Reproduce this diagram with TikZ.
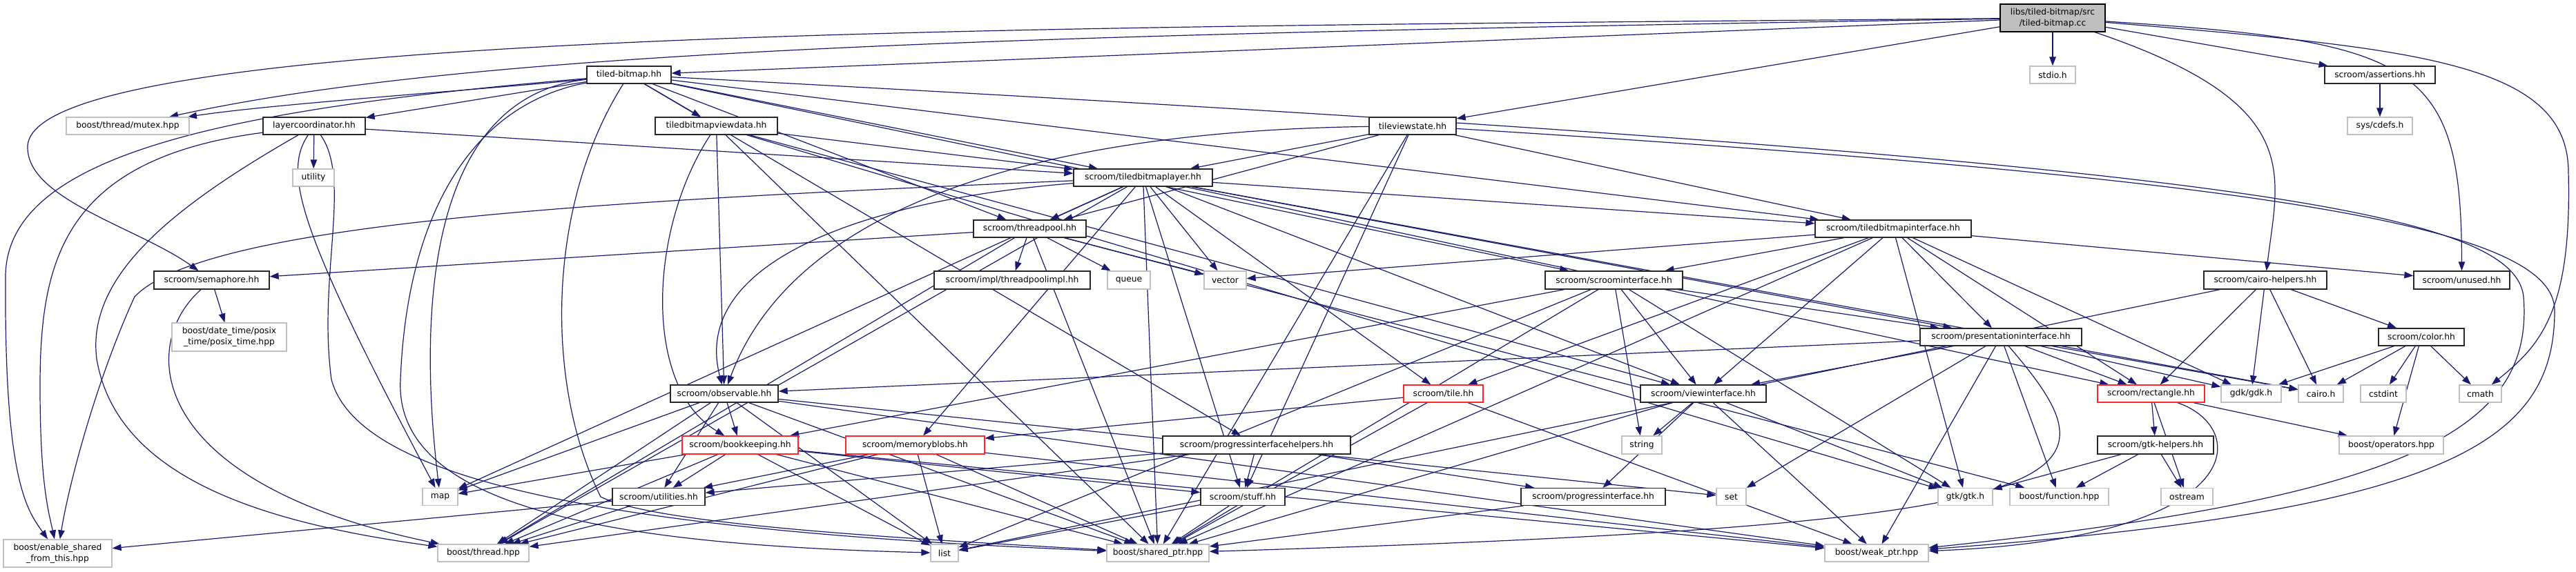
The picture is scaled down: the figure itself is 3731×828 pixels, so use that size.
\documentclass[tikz,border=0pt]{standalone}
\usepackage{fontspec}
\setmainfont{DejaVu Sans}
\usetikzlibrary{arrows.meta}
\pgfdeclarelayer{bg}
\pgfsetlayers{bg,main}
\definecolor{edgec}{RGB}{25,25,112}
\definecolor{extc}{RGB}{191,191,191}
\definecolor{redc}{RGB}{255,40,40}
\definecolor{docc}{RGB}{40,40,40}
\tikzset{
  nb/.style={rectangle, inner sep=0pt, minimum height=25pt, fill=white, align=center,
    font=\fontsize{12.3pt}{15.6pt}\selectfont, line width=1.3pt},
  doc/.style={nb, draw=docc},
  ext/.style={nb, draw=extc},
  trunc/.style={nb, draw=redc},
  mainn/.style={nb, draw=black, fill=extc},
  e/.style={draw=edgec, line width=1.2pt, -{Triangle[length=13pt,width=9.5pt]}, fill=none}
}
\begin{document}
\begin{tikzpicture}[x=1pt,y=-1pt]
\useasboundingbox (0,0) rectangle (3731,828);
% row 0
\node[mainn, minimum width=152pt, minimum height=40pt] (main) at (2973,26) {libs/tiled-bitmap/src\\/tiled-bitmap.cc};
% row 1
\node[doc, minimum width=122pt] (tbhh) at (911,108.5) {tiled-bitmap.hh};
\node[ext, minimum width=66pt] (stdio) at (2973,108.5) {stdio.h};
\node[doc, minimum width=160pt] (assert) at (3447,108.5) {scroom/assertions.hh};
% row 2
\node[ext, minimum width=178pt] (mutex) at (185,182.5) {boost/thread/mutex.hpp};
\node[doc, minimum width=148pt] (layerc) at (455,182.5) {layercoordinator.hh};
\node[doc, minimum width=177pt] (tbvd) at (1037.5,182.5) {tiledbitmapviewdata.hh};
\node[doc, minimum width=126pt] (tvs) at (2046,182.5) {tileviewstate.hh};
\node[ext, minimum width=94pt] (cdefs) at (3447,182.5) {sys/cdefs.h};
% row 3
\node[ext, minimum width=60pt] (utility) at (454,257.5) {utility};
\node[doc, minimum width=201pt] (tbl) at (1655.5,257.5) {scroom/tiledbitmaplayer.hh};
% row 4
\node[doc, minimum width=163pt] (tp) at (1491.5,331.5) {scroom/threadpool.hh};
\node[doc, minimum width=226pt] (tbi) at (2742,331.5) {scroom/tiledbitmapinterface.hh};
% row 5
\node[doc, minimum width=167pt, minimum height=26pt] (sem) at (306.5,406) {scroom/semaphore.hh};
\node[doc, minimum width=226pt, minimum height=26pt] (tpimpl) at (1466,406) {scroom/impl/threadpoolimpl.hh};
\node[ext, minimum width=62pt, minimum height=26pt] (queue) at (1635,406) {queue};
\node[ext, minimum width=61pt, minimum height=26pt] (vector) at (1774.5,406) {vector};
\node[doc, minimum width=199pt, minimum height=26pt] (si) at (2337.5,406) {scroom/scroominterface.hh};
\node[doc, minimum width=178pt, minimum height=26pt] (ch) at (3281,406) {scroom/cairo-helpers.hh};
\node[doc, minimum width=139pt, minimum height=26pt] (unused) at (3565.5,406) {scroom/unused.hh};
% row 6
\node[ext, minimum width=166pt, minimum height=41pt] (posix) at (332,488.5) {boost/date\_time/posix\\\_time/posix\_time.hpp};
\node[doc, minimum width=234pt] (pi) at (2898,488.5) {scroom/presentationinterface.hh};
\node[doc, minimum width=124pt] (color) at (3507,488.5) {scroom/color.hh};
% row 7
\node[doc, minimum width=156pt] (obs) at (1049,570.5) {scroom/observable.hh};
\node[trunc, minimum width=115pt] (tile) at (2090.5,570.5) {scroom/tile.hh};
\node[doc, minimum width=182pt] (vi) at (2467,570.5) {scroom/viewinterface.hh};
\node[trunc, minimum width=155pt] (rect) at (3115.5,570.5) {scroom/rectangle.hh};
\node[ext, minimum width=87pt] (gdk) at (3260.5,570.5) {gdk/gdk.h};
\node[ext, minimum width=65pt] (cairo) at (3361.5,570.5) {cairo.h};
\node[ext, minimum width=66pt] (cstdint) at (3452,570.5) {cstdint};
\node[ext, minimum width=61pt] (cmath) at (3592.5,570.5) {cmath};
% row 8
\node[trunc, minimum width=168pt, minimum height=26pt] (bk) at (1072,645) {scroom/bookkeeping.hh};
\node[trunc, minimum width=201pt, minimum height=26pt] (mb) at (1325.5,645) {scroom/memoryblobs.hh};
\node[doc, minimum width=272pt, minimum height=26pt] (pih) at (1820,645) {scroom/progressinterfacehelpers.hh};
\node[ext, minimum width=58pt, minimum height=26pt] (string) at (2378,645) {string};
\node[doc, minimum width=168pt, minimum height=26pt] (gtkh) at (3122,645) {scroom/gtk-helpers.hh};
\node[ext, minimum width=151pt, minimum height=26pt] (ops) at (3463.5,645) {boost/operators.hpp};
% row 9
\node[doc, minimum width=134pt] (util) at (954,720) {scroom/utilities.hh};
\node[doc, minimum width=122pt] (stuff) at (1800,720) {scroom/stuff.hh};
\node[doc, minimum width=209pt] (progi) at (2307.5,720) {scroom/progressinterface.hh};
\node[ext, minimum width=43pt] (set) at (2507.5,720) {set};
\node[ext, minimum width=51pt] (map) at (637.5,720) {map};
\node[ext, minimum width=79pt] (gtk) at (2846.5,720) {gtk/gtk.h};
\node[ext, minimum width=143pt] (func) at (2982.5,720) {boost/function.hpp};
\node[ext, minimum width=75pt] (ostream) at (3167.5,720) {ostream};
% row 10
\node[ext, minimum width=157pt, minimum height=40pt] (esft) at (83.5,802) {boost/enable\_shared\\\_from\_this.hpp};
\node[ext, minimum width=132pt] (thread) at (700,801.5) {boost/thread.hpp};
\node[ext, minimum width=40pt] (list) at (1368,801.5) {list};
\node[ext, minimum width=148pt] (sp) at (1677,801.5) {boost/shared\_ptr.hpp};
\node[ext, minimum width=150pt] (wp) at (2718,801.5) {boost/weak\_ptr.hpp};

\begin{pgfonlayer}{bg}
\foreach \a/\b in {main/tbhh, main/stdio, main/assert, main/tvs,
  assert/cdefs,
  tbhh/layerc, tbhh/tbvd, tbhh/tbl, tbhh/tp, tbhh/tbi, tbhh/si, tbhh/pih,
  layerc/utility, layerc/tbl,
  tbvd/tbl, tbvd/obs, tbvd/sp, tbvd/vi, tbvd/gtk,
  tvs/tbl, tvs/tp, tvs/tbi, tvs/stuff, tvs/sp,
  tbl/tp, tbl/tbi, tbl/vector, tbl/mb, tbl/tile, tbl/map, tbl/thread, tbl/sp, tbl/pi, tbl/vi, tbl/rect, tbl/cairo, tbl/stuff,
  tp/sem, tp/tpimpl, tp/queue, tp/vector, tp/func, tp/thread, tp/sp,
  tbi/si, tbi/vector, tbi/pi, tbi/tile, tbi/vi, tbi/rect, tbi/gdk, tbi/unused, tbi/gtk, tbi/sp,
  si/pi, si/vi, si/string, si/bk, si/gtk, si/sp, si/list,
  sem/posix,
  ch/color, ch/rect, ch/gdk, ch/cairo, ch/list,
  pi/obs, pi/vi, pi/rect, pi/gdk, pi/cairo, pi/set, pi/func, pi/wp,
  color/gdk, color/cairo, color/cstdint, color/cmath, color/ops,
  obs/bk, obs/util, obs/map, obs/thread, obs/sp, obs/wp, obs/list, obs/set,
  tile/mb, tile/sp, tile/wp,
  vi/string, vi/progi, vi/gtk, vi/wp, vi/sp,
  rect/gtkh, rect/ops, rect/ostream,
  gtkh/gtk, gtkh/func, gtkh/ostream,
  bk/util, bk/map, bk/thread, bk/list, bk/sp, bk/wp, bk/stuff,
  mb/util, mb/list, mb/sp, mb/thread, mb/wp,
  pih/util, pih/stuff, pih/progi, pih/thread,
  util/esft, util/thread,
  stuff/list, stuff/sp,
  progi/sp}
  \draw[e] (\a) -- (\b);
% routed (curved) connectors
\draw[e] (main) .. controls (1500,50) and (700,70) .. (mutex);
\draw[e] (tbhh) .. controls (700,130) and (400,150) .. (mutex);
\draw[e] (main) .. controls (1500,40) and (30,40) .. (40,215) .. controls (42,290) and (200,330) .. (sem);
\draw[e] (main) .. controls (3340,150) and (3300,250) .. (ch);
\draw[e] (main) .. controls (3500,60) and (3565,90) .. (unused);
\draw[e] (main) .. controls (3500,70) and (3720,90) .. (3720,250) .. controls (3725,450) and (3680,500) .. (cmath);
\draw[e] (tbhh) .. controls (300,160) and (10,230) .. (8,400) .. controls (6,700) and (40,740) .. (esft);
\draw[e] (layerc) .. controls (90,230) and (58,380) .. (58,560) .. controls (58,700) and (70,740) .. (esft);
\draw[e] (tbl) .. controls (900,290) and (300,320) .. (195,430) .. controls (140,550) and (100,700) .. (esft);
\draw[e] (layerc) .. controls (250,300) and (125,400) .. (140,520) .. controls (170,700) and (400,760) .. (thread);
\draw[e] (sem) .. controls (200,500) and (210,700) .. (thread);
\draw[e] (layerc) .. controls (410,250) and (430,330) .. (map);
\draw[e] (layerc) .. controls (510,260) and (460,400) .. (480,550) .. controls (520,700) and (900,770) .. (sp);
\draw[e] (tbhh) .. controls (620,140) and (605,450) .. (map);
\draw[e] (tbhh) .. controls (690,150) and (590,300) .. (580,550) .. controls (570,740) and (900,790) .. (list);
\draw[e] (tbhh) .. controls (790,300) and (790,560) .. (870,720) .. controls (950,760) and (1300,780) .. (sp);
\draw[e] (tbhh) .. controls (3200,230) and (3640,300) .. (3655,430) .. controls (3670,620) and (3500,720) .. (wp);
\draw[e] (tvs) .. controls (3300,260) and (3700,330) .. (3700,450) .. controls (3700,640) and (3550,740) .. (wp);
\draw[e] (rect) .. controls (3260,620) and (3260,780) .. (wp);
\draw[e] (pi) .. controls (3080,700) and (3050,760) .. (sp);
\draw[e] (tbl) .. controls (1250,290) and (1000,380) .. (obs);
\draw[e] (tvs) .. controls (1500,190) and (1150,300) .. (obs);
\draw[e] (tbvd) .. controls (940,330) and (930,560) .. (bk);
\end{pgfonlayer}
\end{tikzpicture}
\end{document}
